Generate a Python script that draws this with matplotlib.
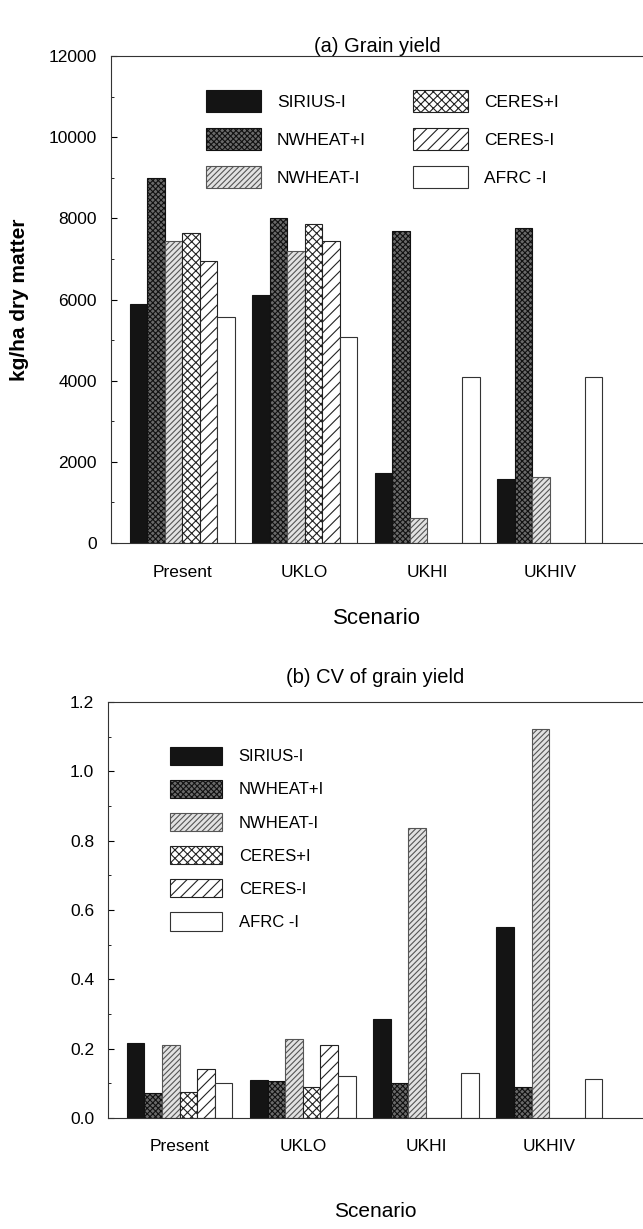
import matplotlib.pyplot as plt
from matplotlib.patches import Patch
from matplotlib.ticker import MultipleLocator, FormatStrFormatter
import numpy as np

plt.rcParams['font.family'] = ['Liberation Sans', 'DejaVu Sans']
plt.rcParams['hatch.linewidth'] = 0.8

# data

scenarios = ['Present', 'UKLO', 'UKHI', 'UKHIV']
models = ['SIRIUS-I', 'NWHEAT+I', 'NWHEAT-I', 'CERES+I', 'CERES-I', 'AFRC -I']

# (a) grain yield, kg/ha dry matter
yield_sirius = [5900, 6100, 1720, 1570]
yield_nwheat_irr = [9000, 8000, 7700, 7750]
yield_nwheat = [7450, 7200, 610, 1620]
yield_ceres_irr = [7650, 7850, 0, 0]
yield_ceres = [6950, 7450, 0, 0]
yield_afrc = [5580, 5080, 4080, 4080]

# (b) CV of grain yield
cv_sirius = [0.215, 0.11, 0.286, 0.551]
cv_nwheat_irr = [0.073, 0.107, 0.10, 0.09]
cv_nwheat = [0.21, 0.228, 0.836, 1.122]
cv_ceres_irr = [0.075, 0.089, 0, 0]
cv_ceres = [0.141, 0.211, 0, 0]
cv_afrc = [0.10, 0.121, 0.13, 0.113]

# bar styles: facecolor, hatch, edgecolor
styles = [('#141414', '', '#141414'),
          ('#6a6a6a', 'xxxxxx', '#111111'),
          ('#e2e2e2', '//////', '#555555'),
          ('white', 'xxxx', '#222222'),
          ('white', '///', '#222222'),
          ('white', '', '#333333')]

fig = plt.figure(figsize=(6.43, 12.29), dpi=100)
ax1 = fig.add_axes([0.1726, 0.5582, 0.8274, 0.3962])
ax2 = fig.add_axes([0.168, 0.0903, 0.832, 0.3385])

x = np.arange(len(scenarios))
w = 1 / 7


def draw(ax, series):
    for i, vals in enumerate(series):
        fc, hatch, ec = styles[i]
        ax.bar(x + (i - 2.5) * w, vals, w, color=fc, hatch=hatch,
               edgecolor=ec, linewidth=0.8)
    ax.set_xticks(x)
    ax.set_xticklabels(scenarios, fontsize=12.5)
    ax.tick_params(axis='x', length=0)
    ax.tick_params(axis='y', which='major', direction='in', length=4, labelsize=12.5, pad=10)
    ax.tick_params(axis='y', which='minor', direction='in', length=2)
    ax.spines['right'].set_visible(False)
    for s in ['left', 'top', 'bottom']:
        ax.spines[s].set_linewidth(0.8)
        ax.spines[s].set_color('#333333')


handles = [Patch(facecolor=fc, hatch=h, edgecolor=ec, linewidth=0.8) for fc, h, ec in styles]

# (a)
draw(ax1, [yield_sirius, yield_nwheat_irr, yield_nwheat, yield_ceres_irr, yield_ceres, yield_afrc])
ax1.set_xlim(-0.58, 3.76)
ax1.set_ylim(0, 12000)
ax1.yaxis.set_major_locator(MultipleLocator(2000))
ax1.yaxis.set_minor_locator(MultipleLocator(1000))
ax1.tick_params(axis='x', pad=16)
ax1.set_title('(a) Grain yield', fontsize=14.5, pad=3)
ax1.set_xlabel('Scenario', fontsize=16, labelpad=20)
ax1.set_ylabel('kg/ha dry matter', fontsize=15, fontweight='bold', labelpad=14)
ax1.legend(handles, models, ncol=2, loc='upper left', bbox_to_anchor=(0.162, 0.948),
           frameon=False, fontsize=12.5, handlelength=3.2, handleheight=1.6,
           labelspacing=0.9, handletextpad=0.9, columnspacing=2.7, borderpad=0)

# (b)
draw(ax2, [cv_sirius, cv_nwheat_irr, cv_nwheat, cv_ceres_irr, cv_ceres, cv_afrc])
ax2.set_xlim(-0.58, 3.76)
ax2.set_ylim(0, 1.2)
ax2.yaxis.set_major_locator(MultipleLocator(0.2))
ax2.yaxis.set_minor_locator(MultipleLocator(0.1))
ax2.yaxis.set_major_formatter(FormatStrFormatter('%.1f'))
ax2.tick_params(axis='x', pad=15)
ax2.set_title('(b) CV of grain yield', fontsize=14.5, pad=14)
ax2.set_xlabel('Scenario', fontsize=15, labelpad=35)
ax2.legend(handles, models, ncol=1, loc='upper left', bbox_to_anchor=(0.101, 0.913),
           frameon=False, fontsize=12, handlelength=3.1, handleheight=1.3,
           labelspacing=0.9, handletextpad=1.0, borderpad=0)

fig.savefig('out.png', dpi=100)
